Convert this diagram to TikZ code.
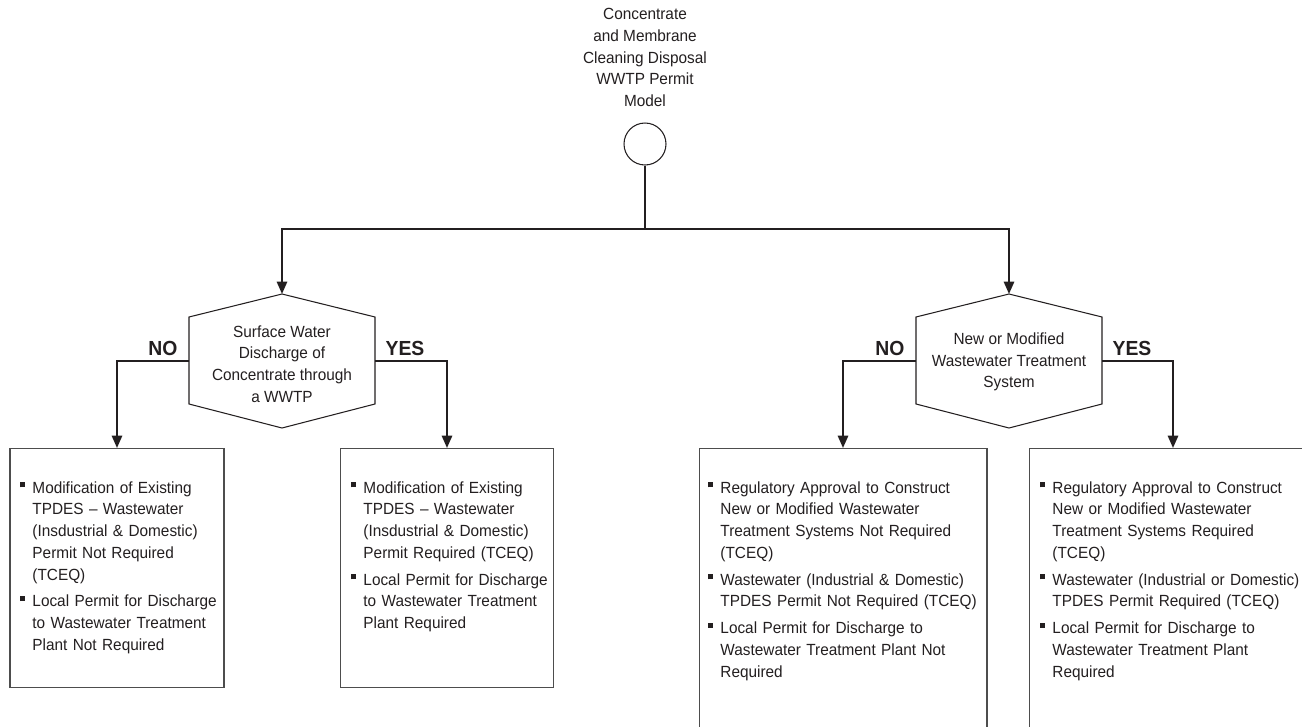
\documentclass[tikz,border=0pt]{standalone}
\usepackage{fontspec}
\setmainfont{Liberation Sans}[FakeStretch=0.95]
\usepackage{xcolor}
\usepackage{tikz}
\usetikzlibrary{arrows.meta}
\definecolor{ink}{HTML}{231F20}
\definecolor{frame}{HTML}{4D4D4D}
\newcommand\txtfont{\fontsize{9.2}{12.4}\selectfont}
\newcommand\bul{\rule[3.3pt]{2.8pt}{2.8pt}}
\newcommand\bitem[1]{\hangindent=6.9pt\hangafter=1\noindent\makebox[6.9pt][l]{\bul}#1\par\vspace{2.8pt}}
% hexagon round a decision node: name, centre x, centre y
\newcommand\hexagon[3]{%
    \draw[hexline] (#2,#3-67) coordinate (#1-n) -- ++(93,23) -- ++(0,87)
        -- ++(-93,24) -- ++(-93,-24) -- ++(0,-87) -- cycle;
    \coordinate (#1-w) at (#2-93,#3);
    \coordinate (#1-e) at (#2+93,#3);
}
\tikzset{
    conn/.style = {draw=ink, line width=1.2pt},
    arr/.style = {conn, -{Triangle[width=5.8pt,length=7pt]}},
    hexline/.style = {draw=ink, line width=0.6pt},
    start/.style = {circle, draw=ink, line width=0.6pt, minimum size=0.84cm, node contents={}},
    box/.style = {rectangle, draw=frame, line width=0.6pt, anchor=north, node contents={}},
    plain/.style = {align=center, font=\txtfont, text=ink, inner sep=0},
    list/.style = {anchor=north west, inner sep=0, text width=6cm, align=left, font=\txtfont, text=ink},
    answer/.style = {font=\fontsize{11.6}{12}\selectfont\bfseries, text=ink, inner sep=0},
}

\begin{document}
\begin{tikzpicture}[x=0.02cm, y=-0.02cm]
    \useasboundingbox (0,0) rectangle (1302,727);
    \node (title) at (645,8) [plain, anchor=north] {Concentrate\\and Membrane\\Cleaning Disposal\\WWTP Permit\\Model};
    \node (s) at (645,144) [start];
    \coordinate (split) at (645,229);

    % decisions
    \node (q1) at (282,364) [plain] {Surface Water\\Discharge of\\Concentrate through\\a WWTP};
    \hexagon{q1}{282}{361}
    \node (q2) at (1009,362) [plain] {New or Modified\\Wastewater Treatment\\System};
    \hexagon{q2}{1009}{361}

    % outcomes
    \node (b1) at (117,448) [box, minimum width=4.28cm, minimum height=4.78cm];
    \node (b2) at (447,448) [box, minimum width=4.26cm, minimum height=4.78cm];
    \node (b3) at (843,448) [box, minimum width=5.76cm, minimum height=6.4cm];
    \node (b4) at (1173,448) [box, minimum width=5.76cm, minimum height=6.4cm];

    \node (l1) at (20,481) [list] {%
        \bitem{Modification of Existing\newline TPDES -- Wastewater\newline (Insdustrial \& Domestic)\newline Permit Not Required\newline (TCEQ)}
        \bitem{Local Permit for Discharge\newline to Wastewater Treatment\newline Plant Not Required}};
    \node (l2) at (351,481) [list] {%
        \bitem{Modification of Existing\newline TPDES -- Wastewater\newline (Insdustrial \& Domestic)\newline Permit Required (TCEQ)}
        \bitem{Local Permit for Discharge\newline to Wastewater Treatment\newline Plant Required}};
    \node (l3) at (708,481) [list] {%
        \bitem{Regulatory Approval to Construct\newline New or Modified Wastewater\newline Treatment Systems Not Required\newline (TCEQ)}
        \bitem{Wastewater (Industrial \& Domestic)\newline TPDES Permit Not Required (TCEQ)}
        \bitem{Local Permit for Discharge to\newline Wastewater Treatment Plant Not\newline Required}};
    \node (l4) at (1040,481) [list] {%
        \bitem{Regulatory Approval to Construct\newline New or Modified Wastewater\newline Treatment Systems Required\newline (TCEQ)}
        \bitem{Wastewater (Industrial or Domestic)\newline TPDES Permit Required (TCEQ)}
        \bitem{Local Permit for Discharge to\newline Wastewater Treatment Plant\newline Required}};

    \node (no1) at (163,348) [answer] {NO};
    \node (yes1) at (405,348) [answer] {YES};
    \node (no2) at (890,348) [answer] {NO};
    \node (yes2) at (1132,348) [answer] {YES};

    \draw[conn] (s) -- (split);
    \draw[arr] (split) -| (q1-n);
    \draw[arr] (split) -| (q2-n);
    \draw[arr] (q1-w) -| (b1.north);
    \draw[arr] (q1-e) -| (b2.north);
    \draw[arr] (q2-w) -| (b3.north);
    \draw[arr] (q2-e) -| (b4.north);
\end{tikzpicture}
\end{document}
